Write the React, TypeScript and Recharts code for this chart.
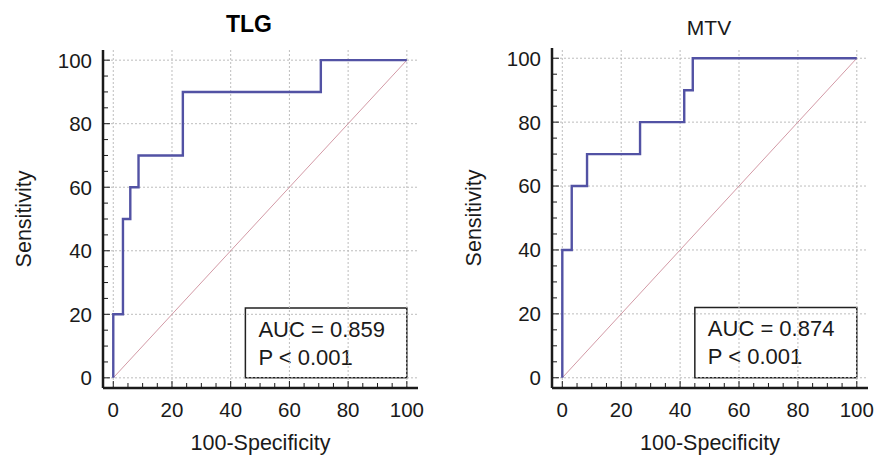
import { LineChart, Line, XAxis, YAxis, ReferenceLine, ReferenceArea, Label } from "recharts";

const tlgRoc = [
  { x: 0, y: 0 },
  { x: 0, y: 20 },
  { x: 3.3, y: 20 },
  { x: 3.3, y: 50 },
  { x: 5.8, y: 50 },
  { x: 5.8, y: 60 },
  { x: 8.6, y: 60 },
  { x: 8.6, y: 70 },
  { x: 23.7, y: 70 },
  { x: 23.7, y: 90 },
  { x: 70.7, y: 90 },
  { x: 70.7, y: 100 },
  { x: 100, y: 100 },
];

const mtvRoc = [
  { x: 0, y: 0 },
  { x: 0, y: 40 },
  { x: 3.2, y: 40 },
  { x: 3.2, y: 60 },
  { x: 8.4, y: 60 },
  { x: 8.4, y: 70 },
  { x: 26.4, y: 70 },
  { x: 26.4, y: 80 },
  { x: 41.4, y: 80 },
  { x: 41.4, y: 90 },
  { x: 44.3, y: 90 },
  { x: 44.3, y: 100 },
  { x: 100, y: 100 },
];

const diagonal = [
  { x: 0, y: 0 },
  { x: 100, y: 100 },
];

const majorTicks = [0, 20, 40, 60, 80, 100];
const minorTicks = [0, 5, 10, 15, 20, 25, 30, 35, 40, 45, 50, 55, 60, 65, 70, 75, 80, 85, 90, 95, 100];

const FONT = "'Liberation Sans', Arial, sans-serif";
const INK = "#1a1a1a";

function XTick(props: any) {
  const { x, y, payload } = props;
  const v = payload.value;
  const major = v % 20 === 0;
  return (
    <g>
      <line x1={x} x2={x} y1={y} y2={y - (major ? 7 : 5)} stroke={INK} strokeWidth={1} />
      {major && (
        <text x={x} y={y + 29} textAnchor="middle" fontSize={20.5} fill={INK} fontFamily={FONT}>
          {v}
        </text>
      )}
    </g>
  );
}

function YTick(props: any) {
  const { x, y, payload } = props;
  const v = payload.value;
  const major = v % 20 === 0;
  return (
    <g>
      <line x1={x} x2={x + (major ? 7 : 5)} y1={y} y2={y} stroke={INK} strokeWidth={1} />
      {major && (
        <text x={x - 11} y={y} dy="0.36em" textAnchor="end" fontSize={20.5} fill={INK} fontFamily={FONT}>
          {v}
        </text>
      )}
    </g>
  );
}

type RocProps = {
  data: { x: number; y: number }[];
  auc: string;
  margin: { top: number; right: number; bottom: number; left: number };
  width: number;
  yLabelShift: number;
};

function RocPanel({ data, auc, margin, width, yLabelShift }: RocProps) {
  return (
    <LineChart width={width} height={457} margin={margin}>
      <XAxis
        type="number"
        dataKey="x"
        domain={[-3.5, 103.8]}
        ticks={minorTicks}
        interval={0}
        allowDataOverflow
        height={30}
        tickSize={0}
        tickMargin={0}
        tickLine={false}
        tick={<XTick />}
        axisLine={{ stroke: INK, strokeWidth: 2.5 }}
      >
        <Label
          content={(p: any) => (
            <text
              x={p.viewBox.x + p.viewBox.width / 2}
              y={p.viewBox.y + 62}
              textAnchor="middle"
              fontSize={21.5}
              fill={INK}
              fontFamily={FONT}
            >
              100-Specificity
            </text>
          )}
        />
      </XAxis>
      <YAxis
        type="number"
        dataKey="y"
        domain={[-3.2, 103.2]}
        ticks={minorTicks}
        interval={0}
        allowDataOverflow
        width={60}
        tickSize={0}
        tickMargin={0}
        tickLine={false}
        tick={<YTick />}
        axisLine={{ stroke: INK, strokeWidth: 2.5 }}
      >
        <Label
          content={(p: any) => {
            const cx = p.viewBox.x - yLabelShift;
            const cy = p.viewBox.y + p.viewBox.height / 2;
            return (
              <text
                x={cx}
                y={cy}
                transform={`rotate(-90 ${cx} ${cy})`}
                textAnchor="middle"
                dominantBaseline="central"
                fontSize={21.5}
                fill={INK}
                fontFamily={FONT}
              >
                Sensitivity
              </text>
            );
          }}
        />
      </YAxis>
      {majorTicks.map((v) => (
        <ReferenceLine key={"gx" + v} x={v} stroke="#bdbdbd" strokeDasharray="2 2" />
      ))}
      {majorTicks.map((v) => (
        <ReferenceLine key={"gy" + v} y={v} stroke="#bdbdbd" strokeDasharray="2 2" />
      ))}
      <Line
        data={diagonal}
        dataKey="y"
        type="linear"
        stroke="#d39aa6"
        strokeWidth={1}
        dot={false}
        activeDot={false}
        isAnimationActive={false}
      />
      <Line
        data={data}
        dataKey="y"
        type="linear"
        stroke="#5252a4"
        strokeWidth={2.4}
        dot={false}
        activeDot={false}
        isAnimationActive={false}
      />
      <ReferenceArea
        x1={45}
        x2={100}
        y1={0}
        y2={22}
        fill="#ffffff"
        fillOpacity={1}
        stroke="#222"
        strokeWidth={1.5}
        label={(p: any) => (
          <g>
            <text x={p.viewBox.x + 13} y={p.viewBox.y + 29} fontSize={22} fill={INK} fontFamily={FONT}>
              {`AUC = ${auc}`}
            </text>
            <text x={p.viewBox.x + 13} y={p.viewBox.y + 57} fontSize={22} fill={INK} fontFamily={FONT}>
              P &lt; 0.001
            </text>
          </g>
        )}
      />
    </LineChart>
  );
}

export default function App() {
  return (
    <div style={{ position: "absolute", left: 0, top: 0, width: 876, height: 457, background: "#fff", fontFamily: FONT }}>
      <div style={{ position: "absolute", left: 0, top: 0 }}>
        <RocPanel
          data={tlgRoc}
          auc="0.859"
          width={438}
          margin={{ top: 50, right: 20, bottom: 39, left: 43 }}
          yLabelShift={19}
        />
      </div>
      <div style={{ position: "absolute", left: 440, top: 0 }}>
        <RocPanel
          data={mtvRoc}
          auc="0.874"
          width={436}
          margin={{ top: 48, right: 8, bottom: 39, left: 52 }}
          yLabelShift={18}
        />
      </div>
      <div
        style={{
          position: "absolute",
          left: 199,
          width: 100,
          top: 13,
          textAlign: "center",
          fontSize: 23,
          lineHeight: "23px",
          fontWeight: "bold",
          color: "#000",
        }}
      >
        TLG
      </div>
      <div
        style={{
          position: "absolute",
          left: 659,
          width: 100,
          top: 17,
          textAlign: "center",
          fontSize: 21,
          lineHeight: "21px",
          color: INK,
        }}
      >
        MTV
      </div>
    </div>
  );
}
